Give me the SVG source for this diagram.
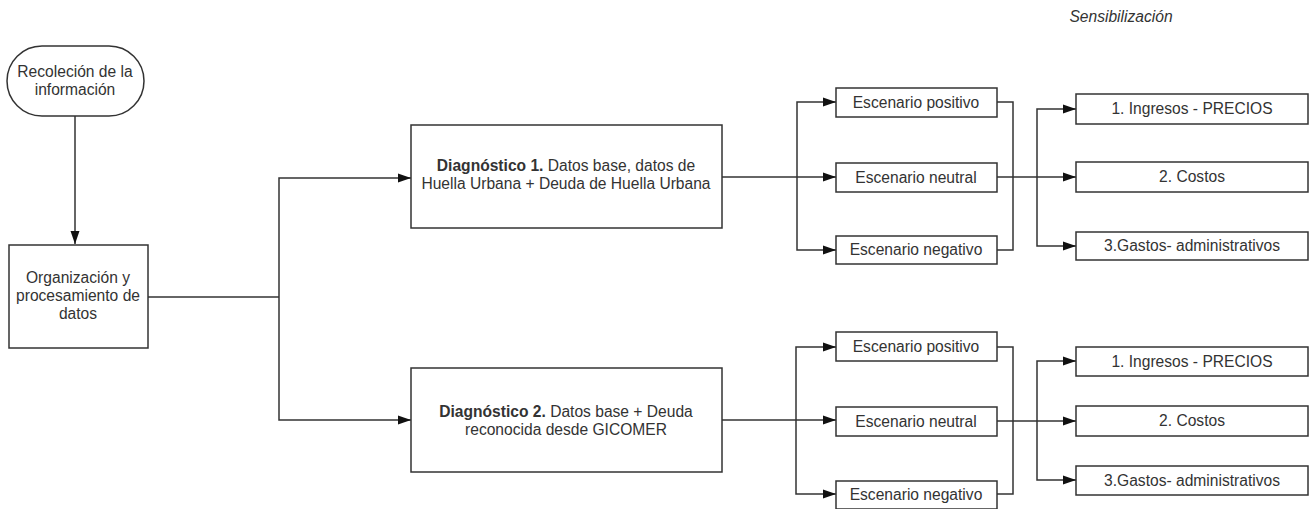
<svg xmlns="http://www.w3.org/2000/svg" width="1313" height="509" viewBox="0 0 1313 509">
<defs>
<marker id="arr" markerWidth="13" markerHeight="10" refX="13" refY="5" orient="auto" markerUnits="userSpaceOnUse">
<path d="M0,0.5 L13,5 L0,9.5 Z" fill="#111"/>
</marker>
<style>
.box{fill:#fff;stroke:#333;stroke-width:1.5}
.t{font-family:"Liberation Sans",Arial,sans-serif;font-size:15.6px;fill:#333;text-anchor:middle}
.b{font-weight:bold}
.c{fill:none;stroke:#333;stroke-width:1.5}
.a{marker-end:url(#arr)}
</style>
</defs>
<rect width="1313" height="509" fill="#fff"/>
<text class="t" x="1121" y="22" font-style="italic">Sensibilización</text>
<g id="connectors">
<path class="c a" d="M75,116 V244"/>
<path class="c" d="M148,297 H279"/>
<path class="c a" d="M279,297 V178 H411"/>
<path class="c a" d="M279,297 V420 H411"/>
<path class="c" d="M722,177 H797"/>
<path class="c a" d="M797,177 V102 H836"/>
<path class="c a" d="M797,177 H836"/>
<path class="c a" d="M797,177 V250 H836"/>
<path class="c" d="M997,102 H1013 V250 H997"/>
<path class="c" d="M997,177 H1037"/>
<path class="c a" d="M1037,177 V109 H1076"/>
<path class="c a" d="M1037,177 H1076"/>
<path class="c a" d="M1037,177 V246 H1076"/>
<path class="c" d="M722,420 H796"/>
<path class="c a" d="M796,420 V347 H836"/>
<path class="c a" d="M796,420 H836"/>
<path class="c a" d="M796,420 V494 H836"/>
<path class="c" d="M997,347 H1013 V494 H997"/>
<path class="c" d="M997,421 H1037"/>
<path class="c a" d="M1037,421 V361 H1076"/>
<path class="c a" d="M1037,421 H1076"/>
<path class="c a" d="M1037,421 V480 H1076"/>
</g>
<g id="n-recoleccion">
<rect class="box" x="7" y="46" width="137" height="70" rx="35" ry="35"/>
<text class="t" x="75" y="77">Recoleción de la</text>
<text class="t" x="75" y="95">información</text>
</g>
<g id="n-organizacion">
<rect class="box" x="9" y="245" width="139" height="103"/>
<text class="t" x="78" y="283">Organización y</text>
<text class="t" x="78" y="301">procesamiento de</text>
<text class="t" x="78" y="319">datos</text>
</g>
<g id="n-diag1">
<rect class="box" x="411" y="125" width="311" height="103"/>
<text class="t" x="566" y="171"><tspan class="b">Diagnóstico 1.</tspan> Datos base, datos de</text>
<text class="t" x="566" y="189">Huella Urbana + Deuda de Huella Urbana</text>
</g>
<g id="n-diag2">
<rect class="box" x="411" y="368" width="311" height="104"/>
<text class="t" x="566" y="417"><tspan class="b">Diagnóstico 2.</tspan> Datos base + Deuda</text>
<text class="t" x="566" y="435">reconocida desde GICOMER</text>
</g>
<g id="n-pos1"><rect class="box" x="836" y="88" width="161" height="29"/><text class="t" x="916" y="108">Escenario positivo</text></g>
<g id="n-neu1"><rect class="box" x="836" y="163" width="161" height="29"/><text class="t" x="916" y="183">Escenario neutral</text></g>
<g id="n-neg1"><rect class="box" x="836" y="236" width="161" height="28"/><text class="t" x="916" y="255">Escenario negativo</text></g>
<g id="n-ing1"><rect class="box" x="1076" y="94" width="232" height="30"/><text class="t" x="1192" y="114">1. Ingresos - PRECIOS</text></g>
<g id="n-cos1"><rect class="box" x="1076" y="162" width="232" height="30"/><text class="t" x="1192" y="182">2. Costos</text></g>
<g id="n-gas1"><rect class="box" x="1076" y="232" width="232" height="28"/><text class="t" x="1192" y="251">3.Gastos- administrativos</text></g>
<g id="n-pos2"><rect class="box" x="836" y="332" width="161" height="29"/><text class="t" x="916" y="352">Escenario positivo</text></g>
<g id="n-neu2"><rect class="box" x="836" y="407" width="161" height="29"/><text class="t" x="916" y="427">Escenario neutral</text></g>
<g id="n-neg2"><rect class="box" x="836" y="481" width="161" height="28"/><text class="t" x="916" y="500">Escenario negativo</text></g>
<g id="n-ing2"><rect class="box" x="1076" y="347" width="232" height="29"/><text class="t" x="1192" y="367">1. Ingresos - PRECIOS</text></g>
<g id="n-cos2"><rect class="box" x="1076" y="406" width="232" height="30"/><text class="t" x="1192" y="426">2. Costos</text></g>
<g id="n-gas2"><rect class="box" x="1076" y="466" width="232" height="29"/><text class="t" x="1192" y="486">3.Gastos- administrativos</text></g>
</svg>
